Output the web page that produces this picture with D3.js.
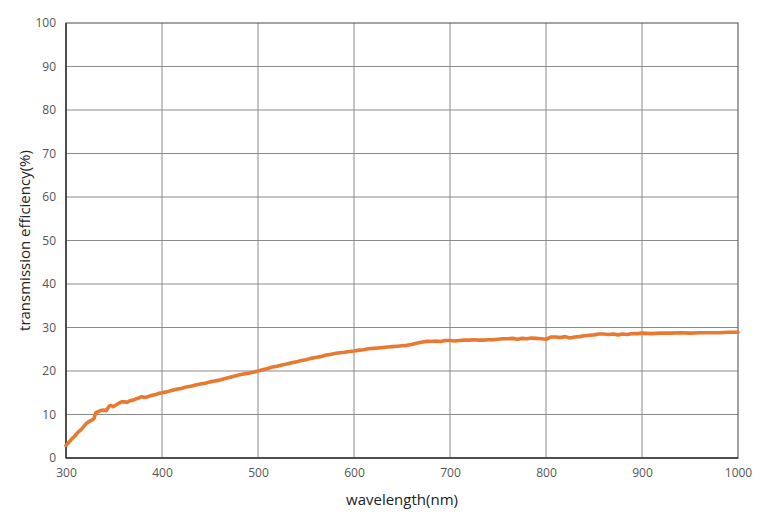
<!DOCTYPE html>
<html><head><meta charset="utf-8">
<script src="https://cdn.jsdelivr.net/npm/d3@7"></script>
<style>body{margin:0;background:#fff}svg{display:block}</style>
</head><body>
<svg id="c" width="778" height="523"></svg>
<script>
const wavelength = [300,303,306,309,312,315,318,321,324,327,329,331,333,336,339,342,345,347,349,352,355,358,361,364,367,370,373,376,379,382,385,388,391,394,397,400,405,410,415,420,425,430,435,440,445,450,455,460,465,470,475,480,485,490,495,500,505,510,515,520,525,530,535,540,545,550,555,560,565,570,575,580,585,590,595,600,605,610,615,620,625,630,635,640,645,650,655,660,665,670,675,680,685,690,695,700,705,710,715,720,725,730,735,740,745,750,755,760,765,770,775,780,785,790,795,800,805,810,815,820,825,830,835,840,845,850,855,860,865,870,875,880,885,890,895,900,910,920,930,940,950,960,970,980,990,1000];
const efficiency = [2.9,3.6,4.4,5.0,5.8,6.4,7.1,7.9,8.4,8.7,9.0,10.4,10.6,10.9,11.0,10.9,11.9,12.1,11.8,12.2,12.6,12.9,12.9,12.8,13.2,13.3,13.6,13.8,14.1,13.9,14.1,14.3,14.5,14.6,14.9,15.0,15.2,15.5,15.8,16.0,16.3,16.5,16.8,17.0,17.2,17.5,17.7,17.9,18.2,18.5,18.8,19.1,19.3,19.5,19.7,20.0,20.3,20.6,20.9,21.1,21.4,21.6,21.9,22.1,22.4,22.6,22.9,23.1,23.3,23.6,23.8,24.0,24.2,24.3,24.5,24.6,24.8,24.9,25.1,25.2,25.3,25.4,25.5,25.6,25.7,25.8,25.9,26.1,26.4,26.6,26.8,26.8,26.9,26.8,27.0,27.0,26.9,27.0,27.1,27.1,27.2,27.1,27.1,27.2,27.2,27.3,27.4,27.4,27.5,27.3,27.5,27.4,27.6,27.5,27.4,27.3,27.8,27.8,27.7,27.9,27.6,27.8,27.9,28.1,28.2,28.3,28.5,28.5,28.4,28.5,28.3,28.5,28.4,28.6,28.6,28.7,28.6,28.7,28.7,28.8,28.7,28.8,28.8,28.8,28.9,28.9];
const xTicks = [300,400,500,600,700,800,900,1000];
const yTicks = [0,10,20,30,40,50,60,70,80,90,100];

const svg = d3.select("#c");
const m = {l:66, r:40, t:23, b:65};
const W = 778, H = 523;
const x = d3.scaleLinear().domain([300,1000]).range([m.l, W-m.r]);
const y = d3.scaleLinear().domain([0,100]).range([H-m.b, m.t]);

// grid
svg.append("g").selectAll("line").data(xTicks.slice(1,-1)).join("line")
  .attr("x1",d=>x(d)).attr("x2",d=>x(d)).attr("y1",y(0)).attr("y2",y(100))
  .attr("stroke","#8a8a8a").attr("stroke-width",1);
svg.append("g").selectAll("line").data(yTicks.slice(1,-1)).join("line")
  .attr("y1",d=>y(d)).attr("y2",d=>y(d)).attr("x1",x(300)).attr("x2",x(1000))
  .attr("stroke","#8a8a8a").attr("stroke-width",1);

// border
svg.append("rect").attr("x",x(300)).attr("y",y(100)).attr("width",x(1000)-x(300)).attr("height",y(0)-y(100))
  .attr("fill","none").attr("stroke","#666").attr("stroke-width",1.2);
svg.append("line").attr("x1",x(300)).attr("x2",x(300)).attr("y1",y(100)).attr("y2",y(0)).attr("stroke","#333").attr("stroke-width",1.5);
svg.append("line").attr("x1",x(300)).attr("x2",x(1000)).attr("y1",y(0)).attr("y2",y(0)).attr("stroke","#333").attr("stroke-width",1.5);

// axes labels via d3 axes
const xa = svg.append("g").attr("transform",`translate(0,${y(0)})`)
  .call(d3.axisBottom(x).tickValues(xTicks).tickSize(0).tickPadding(10).tickFormat(d3.format("d")));
const ya = svg.append("g").attr("transform",`translate(${x(300)},0)`)
  .call(d3.axisLeft(y).tickValues(yTicks).tickSize(0).tickPadding(10));
[xa,ya].forEach(g=>{
  g.select(".domain").remove();
  g.selectAll("text").attr("font-family","'Open Sans', sans-serif").attr("font-size",12).attr("fill","#555");
});

// line
const line = d3.line().x((d,i)=>x(wavelength[i])).y(d=>y(d));
svg.append("path").datum(efficiency).attr("d",line).attr("fill","none")
  .attr("stroke","#e8792f").attr("stroke-width",3.6).attr("stroke-linejoin","round").attr("stroke-linecap","round");

// titles
svg.append("text").attr("x",(x(300)+x(1000))/2).attr("y",505).attr("text-anchor","middle")
  .attr("font-family","'Open Sans', sans-serif").attr("font-size",15).attr("fill","#222").text("wavelength(nm)");
svg.append("text").attr("transform",`translate(30,${(y(0)+y(100))/2}) rotate(-90)`).attr("text-anchor","middle")
  .attr("font-family","'Open Sans', sans-serif").attr("font-size",15).attr("fill","#222").text("transmission efficiency(%)");
</script>
</body></html>
